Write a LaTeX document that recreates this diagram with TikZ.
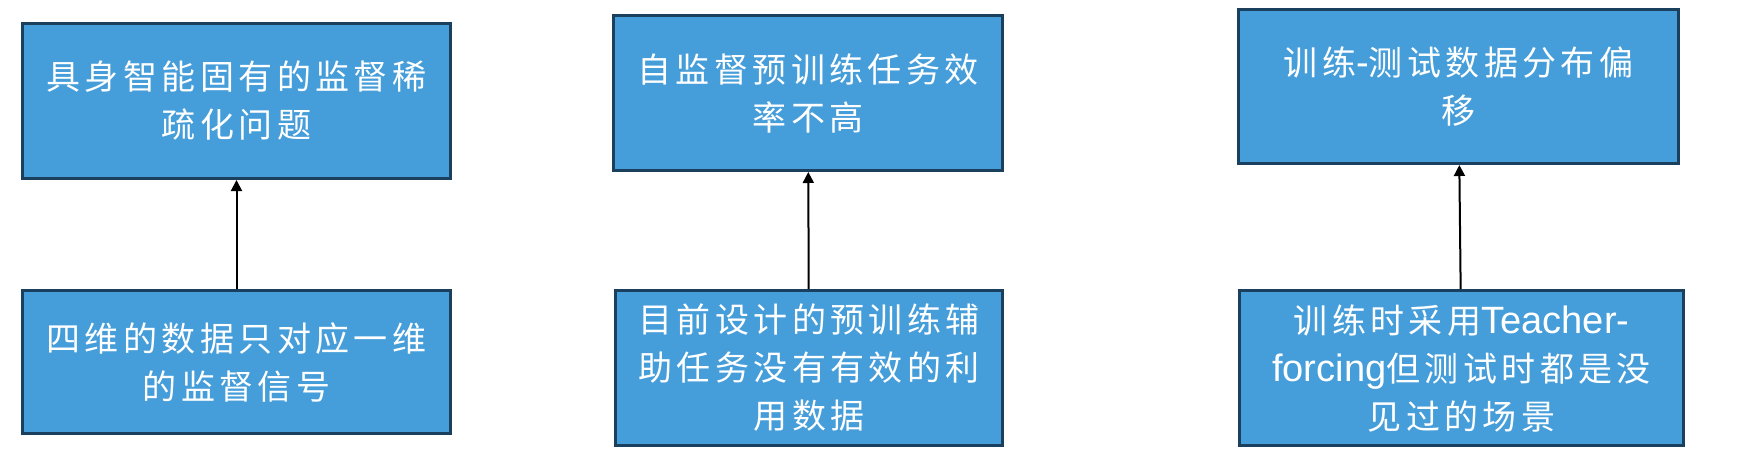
\documentclass[tikz,border=0pt]{standalone}
\usepackage{fontspec}
\setmainfont{Noto Sans CJK SC}[LetterSpace=13]
\newfontfamily\latinfont{Liberation Sans}[Scale=1.12]
\newcommand{\lat}[1]{{\latinfont #1}}
\usetikzlibrary{arrows.meta}
\definecolor{boxfill}{RGB}{69,157,217}
\definecolor{boxedge}{RGB}{26,64,94}
\tikzset{
  probbox/.style={draw=boxedge, fill=boxfill, line width=3pt, rectangle,
    text=white, align=center, inner sep=0pt,
    font=\fontsize{34}{48}\selectfont},
  link/.style={draw=black, line width=2pt, -{Triangle[width=11pt,length=11pt]}}
}
\begin{document}
\begin{tikzpicture}[x=1pt,y=-1pt]
\useasboundingbox (0,0) rectangle (1756,466);
\node[probbox, minimum width=428pt, minimum height=155pt] (at) at (236.5,101) {具身智能固有的监督稀\\疏化问题};
\node[probbox, minimum width=428pt, minimum height=143pt] (ab) at (236.5,362) {四维的数据只对应一维\\的监督信号};
\node[probbox, minimum width=389pt, minimum height=155pt] (bt) at (808,93) {自监督预训练任务效\\率不高};
\node[probbox, minimum width=387pt, minimum height=155pt] (bb) at (809,368) {目前设计的预训练辅\\助任务没有有效的利\\用数据};
\node[probbox, minimum width=440pt, minimum height=154pt] (ct) at (1458.5,86.5) {训练\lat{-}测试数据分布偏\\移};
\node[probbox, minimum width=444pt, minimum height=155pt] (cb) at (1461.5,368) {训练时采用\lat{Teacher-}\\\lat{forcing}但测试时都是没\\见过的场景};
\draw[link] (ab) -- (at);
\draw[link] (bb) -- (bt);
\draw[link] (cb) -- (ct);
\end{tikzpicture}
\end{document}
